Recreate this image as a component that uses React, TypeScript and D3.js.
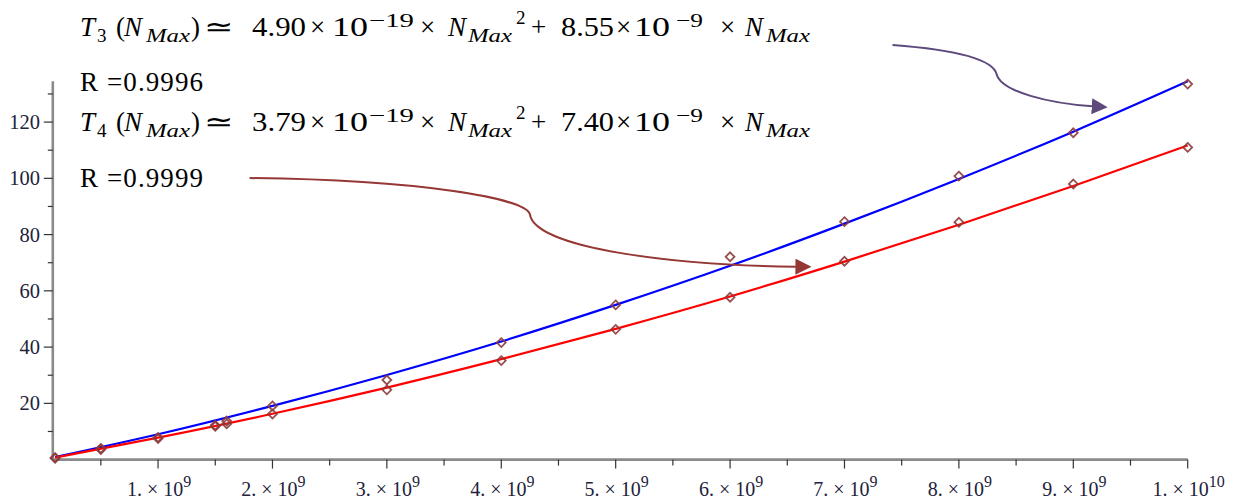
import * as d3 from 'd3'

// measured points (N in units of 1e9)
const N_POINTS = [0.1, 0.5, 1, 1.5, 1.6, 2, 3, 4, 5, 6, 7, 8, 9, 10]
const T3_POINTS = [0.7, 4.0, 7.9, 12.2, 13.7, 19.1, 28.3, 41.6, 55.0, 72.1, 84.6, 100.8, 116.2, 133.5]
const T4_POINTS = [0.5, 3.6, 7.5, 11.8, 12.7, 16.2, 24.8, 35.2, 46.3, 57.7, 70.5, 84.4, 98.0, 111.0]

// fitted curves at these N
const N_FIT = [0.1, 1, 2, 3, 4, 5, 6, 7, 8, 9, 10]
const T3_FIT = [0.9, 9.0, 19.1, 30.1, 42.0, 55.0, 68.9, 83.9, 99.8, 116.6, 134.5]
const T4_FIT = [0.7, 7.8, 16.3, 25.6, 35.7, 46.5, 58.0, 70.4, 83.5, 97.3, 111.7]

const X_MAJOR = [1, 2, 3, 4, 5, 6, 7, 8, 9, 10]
const X_MINOR = [0.5, 1.5, 2.5, 3.5, 4.5, 5.5, 6.5, 7.5, 8.5, 9.5]
const X_LABELS = ['1.', '2.', '3.', '4.', '5.', '6.', '7.', '8.', '9.', '1.']
const X_EXP = ['9', '9', '9', '9', '9', '9', '9', '9', '9', '10']
const Y_MAJOR = [20, 40, 60, 80, 100, 120]
const Y_MINOR = [10, 30, 50, 70, 90, 110, 130]

// annotation arrows, in data units [N/1e9, T]
const ARROW_T3: [number, number][] = [[7.42, 147.4], [8.0, 145.6], [8.3, 142.1], [8.33, 137.0], [8.37, 130.7], [8.8, 126.6], [9.17, 125.6]]
const ARROW_T4: [number, number][] = [[1.8, 100.1], [3.29, 99.4], [4.2, 93.0], [4.25, 87.3], [4.29, 74.9], [5.56, 68.9], [6.58, 68.6]]

const W = 1243
const H = 501
const x = d3.scaleLinear().domain([0.08, 10]).range([52.8, 1187.7])
const y = d3.scaleLinear().domain([0, 134.5]).range([459.6, 81.3])

const AXIS = '#8a8a8a'
const LABEL = '#22223a'
const SERIF = '"Liberation Serif", "Times New Roman", serif'

// x = start, w = stretched width (only for wide pieces)
type Seg = { t: string; x: number; w?: number; lvl?: 'sub' | 'sup' | 'sup2'; it?: boolean }

function eqSegs(idx: string, a: string, b: string, e1: string): Seg[] {
  return [
    { t: 'T', x: 80, it: true },
    { t: idx, x: 97, lvl: 'sub' },
    { t: '(', x: 116 },
    { t: 'N', x: 124, it: true },
    { t: 'Max', x: 146, w: 44, it: true, lvl: 'sub' },
    { t: ')', x: 191 },
    { t: '≃', x: 204, w: 30 },
    { t: a, x: 252, w: 54 },
    { t: '×', x: 310 },
    { t: '10', x: 332, w: 36 },
    { t: e1, x: 369, w: 45, lvl: 'sup' },
    { t: '×', x: 420 },
    { t: 'N', x: 448, it: true },
    { t: 'Max', x: 468, w: 44, it: true, lvl: 'sub' },
    { t: '2', x: 516, lvl: 'sup2' },
    { t: '+', x: 531 },
    { t: b, x: 561, w: 53 },
    { t: '×', x: 616 },
    { t: '10', x: 634, w: 36 },
    { t: '−9', x: 676, w: 27, lvl: 'sup' },
    { t: '×', x: 720 },
    { t: 'N', x: 745, it: true },
    { t: 'Max', x: 766, w: 44, it: true, lvl: 'sub' },
  ]
}

function Equation({ base, segs }: { base: number; segs: Seg[] }) {
  return (
    <g fontFamily={SERIF} fill="#000">
      {segs.map((s, i) => {
        const dy = s.lvl === 'sub' ? 6 : s.lvl === 'sup' ? -9 : s.lvl === 'sup2' ? -12 : 0
        const fs = s.lvl ? 19 : 27
        return (
          <text key={i} x={s.x} y={base + dy} fontSize={fs} fontStyle={s.it ? 'italic' : 'normal'}
            textLength={s.w} lengthAdjust={s.w ? 'spacingAndGlyphs' : undefined}>
            {s.t}
          </text>
        )
      })}
    </g>
  )
}

function arrowPath(pts: [number, number][]) {
  const p = pts.map(([a, b]) => [x(a), y(b)])
  const path = d3.path()
  path.moveTo(p[0][0], p[0][1])
  path.bezierCurveTo(p[1][0], p[1][1], p[2][0], p[2][1], p[3][0], p[3][1])
  path.bezierCurveTo(p[4][0], p[4][1], p[5][0], p[5][1], p[6][0], p[6][1])
  return path.toString()
}

export default function App() {
  const line = d3.line<number>()
    .x((_, i) => x(N_FIT[i]))
    .y(d => y(d))
    .curve(d3.curveMonotoneX)
  const diamond = d3.symbol().type(d3.symbolDiamond2).size(50)()

  return (
    <svg width={W} height={H} style={{ position: 'absolute', left: 0, top: 0, background: '#fff' }}>
      <defs>
        <marker id="headT3" viewBox="0 0 16 16" refX="1" refY="8" markerWidth="16" markerHeight="16" markerUnits="userSpaceOnUse" orient="auto">
          <path d="M0,0 L16,8 L0,16 Z" fill="#5e4a7c" />
        </marker>
        <marker id="headT4" viewBox="0 0 16 16" refX="1" refY="8" markerWidth="16" markerHeight="16" markerUnits="userSpaceOnUse" orient="auto">
          <path d="M0,0 L16,8 L0,16 Z" fill="#953735" />
        </marker>
      </defs>

      {/* axes */}
      <line x1={x.range()[0]} x2={x.range()[1]} y1={y(0)} y2={y(0)} stroke={AXIS} strokeWidth={2.6} />
      <line x1={x.range()[0]} x2={x.range()[0]} y1={y(0)} y2={y.range()[1]} stroke={AXIS} strokeWidth={2.6} />
      {X_MAJOR.map(v => (
        <line key={'xM' + v} x1={x(v)} x2={x(v)} y1={y(0)} y2={y(0) + 9} stroke="#333" strokeWidth={1.2} />
      ))}
      {X_MINOR.map(v => (
        <line key={'xm' + v} x1={x(v)} x2={x(v)} y1={y(0)} y2={y(0) + 6} stroke="#333" strokeWidth={1.2} />
      ))}
      {Y_MAJOR.map(v => (
        <line key={'yM' + v} x1={x.range()[0] - 9} x2={x.range()[0]} y1={y(v)} y2={y(v)} stroke="#333" strokeWidth={1.2} />
      ))}
      {Y_MINOR.map(v => (
        <line key={'ym' + v} x1={x.range()[0] - 5} x2={x.range()[0]} y1={y(v)} y2={y(v)} stroke="#333" strokeWidth={1.2} />
      ))}
      {Y_MAJOR.map(v => (
        <text key={'yl' + v} x={40} y={y(v) + 7} textAnchor="end" fontFamily={SERIF} fontSize={20.5} fill={LABEL}>
          {v}
        </text>
      ))}
      {X_MAJOR.map((v, i) => (
        <text key={'xl' + v} x={x(v) + 1} y={496} textAnchor="middle" fontFamily={SERIF} fontSize={20} fill={LABEL} style={{ whiteSpace: 'pre' }}>
          {X_LABELS[i] + ' × 10'}
          <tspan fontSize={16} dy={-9}>{X_EXP[i]}</tspan>
        </text>
      ))}

      {/* fitted curves */}
      <path d={line(T3_FIT) ?? ''} fill="none" stroke="#0000ff" strokeWidth={2.2} />
      <path d={line(T4_FIT) ?? ''} fill="none" stroke="#ff0000" strokeWidth={2.2} />

      {/* measured points */}
      {[T3_POINTS, T4_POINTS].map((series, s) =>
        series.map((v, i) => (
          <path key={s + '-' + i} d={diamond ?? ''} transform={`translate(${x(N_POINTS[i])},${y(v)})`}
            fill="none" stroke="#8c3a3a" strokeWidth={1.8} strokeOpacity={0.9} />
        ))
      )}

      {/* annotation arrows */}
      <path d={arrowPath(ARROW_T3)} fill="none" stroke="#5e4a7c" strokeWidth={2} markerEnd="url(#headT3)" />
      <path d={arrowPath(ARROW_T4)} fill="none" stroke="#953735" strokeWidth={2} markerEnd="url(#headT4)" />

      {/* equations */}
      <Equation base={36} segs={eqSegs('3', '4.90', '8.55', '−19')} />
      <Equation base={131} segs={eqSegs('4', '3.79', '7.40', '−19')} />
      <text x={80} y={91} fontFamily={SERIF} fontSize={27} textLength={123} lengthAdjust="spacing">R =0.9996</text>
      <text x={80} y={187} fontFamily={SERIF} fontSize={27} textLength={123} lengthAdjust="spacing">R =0.9999</text>
    </svg>
  )
}
